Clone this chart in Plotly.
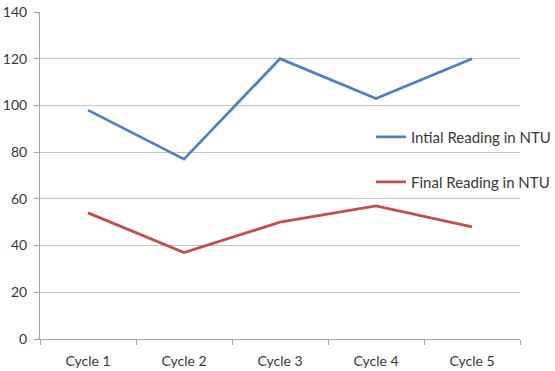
import plotly.graph_objects as go

categories = ["Cycle 1", "Cycle 2", "Cycle 3", "Cycle 4", "Cycle 5"]
initial_ntu = [98, 77, 120, 103, 120]
final_ntu = [54, 37, 50, 57, 48]
y_ticks = [0, 20, 40, 60, 80, 100, 120, 140]

W, H = 555, 371
L, R, T, B = 40, 35, 12, 32
pw, ph = W - L - R, H - T - B

def px_x(x):
    return (x - L) / pw

def px_y(y):
    return 1 - (y - T) / ph

font = "Lato, 'Open Sans', sans-serif"
txt = "#383838"

fig = go.Figure()
fig.add_trace(go.Scatter(x=categories, y=initial_ntu, mode="lines",
                         name="Intial Reading in NTU", showlegend=True,
                         line=dict(color="#4F81BD", width=2.75),
                         legend="legend"))
fig.add_trace(go.Scatter(x=categories, y=final_ntu, mode="lines",
                         name="Final Reading in NTU", showlegend=True,
                         line=dict(color="#C0504D", width=2.75),
                         legend="legend2"))

legend_common = dict(xanchor="left", yanchor="middle", bgcolor="rgba(0,0,0,0)",
                     borderwidth=0, font=dict(family=font, size=15, color=txt),
                     itemwidth=30)
fig.update_layout(
    template="none",
    showlegend=True,
    width=W, height=H,
    margin=dict(l=L, r=R, t=T, b=B, autoexpand=False),
    paper_bgcolor="white", plot_bgcolor="white",
    font=dict(family=font, size=14, color=txt),
    legend=dict(x=px_x(371), y=px_y(137), **legend_common),
    legend2=dict(x=px_x(371), y=px_y(182), **legend_common),
    xaxis=dict(type="category", showgrid=False, showline=True, linecolor="#A6A6A6",
               linewidth=1, ticks="outside", tickson="boundaries", ticklen=5,
               tickcolor="#A6A6A6", tickfont=dict(family=font, size=14, color=txt),
               ticklabelstandoff=9, automargin=False, range=[-0.5, 4.5]),
    yaxis=dict(range=[0, 140], tickvals=y_ticks, showgrid=True, gridcolor="#C4C4C4",
               gridwidth=1, showline=True, linecolor="#A6A6A6", linewidth=1,
               ticks="outside", ticklen=5, tickcolor="#A6A6A6", zeroline=False,
               ticklabelstandoff=4, automargin=False,
               tickfont=dict(family=font, size=14, color=txt)),
)

fig.write_html("out.html", config={"displayModeBar": False},
               post_script="document.body.style.margin='0px';")
